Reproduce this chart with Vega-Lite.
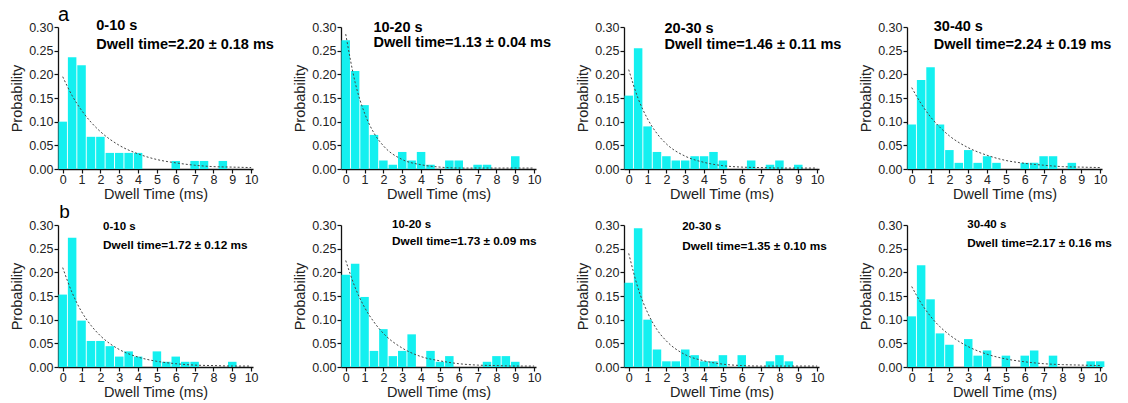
{
  "$schema": "https://vega.github.io/schema/vega-lite/v6.json",
  "padding": {"left": 9, "top": 4, "right": 5, "bottom": 5},
  "background": "white",
  "config": {
    "view": {"stroke": null},
    "axis": {"grid": false, "domainColor": "#111", "domainWidth": 1.3, "tickColor": "#111", "tickWidth": 1.2, "tickSize": 4,
      "labelFont": "Liberation Sans", "labelFontSize": 12.5, "labelColor": "#222", "labelPadding": 1, "labelFlush": false, "labelOverlap": false,
      "titleFont": "Liberation Sans", "titleFontSize": 14.5, "titleFontWeight": "normal", "titleColor": "#222"},
    "axisX": {"titlePadding": 2, "labelPadding": 0},
    "axisY": {"titlePadding": 4},
    "style": {"lbl": {"font": "Liberation Sans", "fontWeight": "bold", "fill": "#111", "align": "left", "baseline": "middle"}}
  },
  "datasets": {
    "labels": [
      {"panel": "a1", "range": "0-10 s", "dwell": "Dwell time=2.20 ± 0.18 ms", "tag": "a"},
      {"panel": "a2", "range": "10-20 s", "dwell": "Dwell time=1.13 ± 0.04 ms", "tag": ""},
      {"panel": "a3", "range": "20-30 s", "dwell": "Dwell time=1.46 ± 0.11 ms", "tag": ""},
      {"panel": "a4", "range": "30-40 s", "dwell": "Dwell time=2.24 ± 0.19 ms", "tag": ""},
      {"panel": "b1", "range": "0-10 s", "dwell": "Dwell time=1.72 ± 0.12 ms", "tag": "b"},
      {"panel": "b2", "range": "10-20 s", "dwell": "Dwell time=1.73 ± 0.09 ms", "tag": ""},
      {"panel": "b3", "range": "20-30 s", "dwell": "Dwell time=1.35 ± 0.10 ms", "tag": ""},
      {"panel": "b4", "range": "30-40 s", "dwell": "Dwell time=2.17 ± 0.16 ms", "tag": ""}
    ],
    "bars": [
      {"panel":"a1","t":0,"p":0.10},{"panel":"a1","t":0.5,"p":0.236},{"panel":"a1","t":1,"p":0.219},{"panel":"a1","t":1.5,"p":0.068},{"panel":"a1","t":2,"p":0.068},{"panel":"a1","t":2.5,"p":0.034},{"panel":"a1","t":3,"p":0.034},{"panel":"a1","t":3.5,"p":0.034},{"panel":"a1","t":4,"p":0.034},{"panel":"a1","t":6,"p":0.017},{"panel":"a1","t":7,"p":0.017},{"panel":"a1","t":7.5,"p":0.017},{"panel":"a1","t":8.5,"p":0.017},
      {"panel":"a2","t":0,"p":0.272},{"panel":"a2","t":0.5,"p":0.207},{"panel":"a2","t":1,"p":0.135},{"panel":"a2","t":1.5,"p":0.072},{"panel":"a2","t":2,"p":0.018},{"panel":"a2","t":2.5,"p":0.009},{"panel":"a2","t":3,"p":0.036},{"panel":"a2","t":3.5,"p":0.018},{"panel":"a2","t":4,"p":0.036},{"panel":"a2","t":4.5,"p":0.009},{"panel":"a2","t":5.5,"p":0.018},{"panel":"a2","t":6,"p":0.018},{"panel":"a2","t":7,"p":0.009},{"panel":"a2","t":7.5,"p":0.009},{"panel":"a2","t":9,"p":0.027},
      {"panel":"a3","t":0,"p":0.155},{"panel":"a3","t":0.5,"p":0.255},{"panel":"a3","t":1,"p":0.09},{"panel":"a3","t":1.5,"p":0.036},{"panel":"a3","t":2,"p":0.027},{"panel":"a3","t":2.5,"p":0.018},{"panel":"a3","t":3,"p":0.018},{"panel":"a3","t":3.5,"p":0.027},{"panel":"a3","t":4,"p":0.027},{"panel":"a3","t":4.5,"p":0.036},{"panel":"a3","t":5,"p":0.018},{"panel":"a3","t":6.5,"p":0.018},{"panel":"a3","t":7.5,"p":0.009},{"panel":"a3","t":8,"p":0.018},{"panel":"a3","t":9,"p":0.009},
      {"panel":"a4","t":0,"p":0.094},{"panel":"a4","t":0.5,"p":0.188},{"panel":"a4","t":1,"p":0.215},{"panel":"a4","t":1.5,"p":0.094},{"panel":"a4","t":2,"p":0.04},{"panel":"a4","t":2.5,"p":0.013},{"panel":"a4","t":3,"p":0.04},{"panel":"a4","t":3.5,"p":0.013},{"panel":"a4","t":4,"p":0.027},{"panel":"a4","t":4.5,"p":0.013},{"panel":"a4","t":6,"p":0.013},{"panel":"a4","t":6.5,"p":0.013},{"panel":"a4","t":7,"p":0.027},{"panel":"a4","t":7.5,"p":0.027},{"panel":"a4","t":8.5,"p":0.013},
      {"panel":"b1","t":0,"p":0.153},{"panel":"b1","t":0.5,"p":0.273},{"panel":"b1","t":1,"p":0.098},{"panel":"b1","t":1.5,"p":0.055},{"panel":"b1","t":2,"p":0.055},{"panel":"b1","t":2.5,"p":0.044},{"panel":"b1","t":3,"p":0.022},{"panel":"b1","t":3.5,"p":0.033},{"panel":"b1","t":4,"p":0.022},{"panel":"b1","t":5,"p":0.033},{"panel":"b1","t":5.5,"p":0.011},{"panel":"b1","t":6,"p":0.022},{"panel":"b1","t":6.5,"p":0.011},{"panel":"b1","t":7,"p":0.011},{"panel":"b1","t":9,"p":0.011},
      {"panel":"b2","t":0,"p":0.195},{"panel":"b2","t":0.5,"p":0.218},{"panel":"b2","t":1,"p":0.148},{"panel":"b2","t":1.5,"p":0.034},{"panel":"b2","t":2,"p":0.08},{"panel":"b2","t":2.5,"p":0.023},{"panel":"b2","t":3,"p":0.034},{"panel":"b2","t":3.5,"p":0.069},{"panel":"b2","t":4.5,"p":0.034},{"panel":"b2","t":5,"p":0.011},{"panel":"b2","t":5.5,"p":0.023},{"panel":"b2","t":7.5,"p":0.011},{"panel":"b2","t":8,"p":0.023},{"panel":"b2","t":8.5,"p":0.023},{"panel":"b2","t":9,"p":0.011},
      {"panel":"b3","t":0,"p":0.178},{"panel":"b3","t":0.5,"p":0.293},{"panel":"b3","t":1,"p":0.10},{"panel":"b3","t":1.5,"p":0.037},{"panel":"b3","t":2,"p":0.012},{"panel":"b3","t":2.5,"p":0.012},{"panel":"b3","t":3,"p":0.037},{"panel":"b3","t":3.5,"p":0.025},{"panel":"b3","t":4,"p":0.012},{"panel":"b3","t":4.5,"p":0.012},{"panel":"b3","t":5,"p":0.025},{"panel":"b3","t":6,"p":0.025},{"panel":"b3","t":7.5,"p":0.012},{"panel":"b3","t":8,"p":0.025},{"panel":"b3","t":8.5,"p":0.012},
      {"panel":"b4","t":0,"p":0.107},{"panel":"b4","t":0.5,"p":0.215},{"panel":"b4","t":1,"p":0.143},{"panel":"b4","t":1.5,"p":0.071},{"panel":"b4","t":2,"p":0.047},{"panel":"b4","t":3,"p":0.059},{"panel":"b4","t":3.5,"p":0.024},{"panel":"b4","t":4,"p":0.035},{"panel":"b4","t":5,"p":0.024},{"panel":"b4","t":6,"p":0.024},{"panel":"b4","t":6.5,"p":0.035},{"panel":"b4","t":7.5,"p":0.024},{"panel":"b4","t":9.5,"p":0.012},{"panel":"b4","t":10,"p":0.012}
    ],
    "fit": [
      {"panel":"a1","t":0,"p":0.195},{"panel":"a1","t":0.5,"p":0.155},{"panel":"a1","t":1,"p":0.124},{"panel":"a1","t":1.5,"p":0.099},{"panel":"a1","t":2,"p":0.079},{"panel":"a1","t":3,"p":0.050},{"panel":"a1","t":4,"p":0.032},{"panel":"a1","t":5,"p":0.020},{"panel":"a1","t":6,"p":0.013},{"panel":"a1","t":7,"p":0.008},{"panel":"a1","t":8,"p":0.005},{"panel":"a1","t":9,"p":0.004},{"panel":"a1","t":10,"p":0.003},
      {"panel":"a2","t":0,"p":0.285},{"panel":"a2","t":0.5,"p":0.183},{"panel":"a2","t":1,"p":0.118},{"panel":"a2","t":1.5,"p":0.076},{"panel":"a2","t":2,"p":0.049},{"panel":"a2","t":3,"p":0.020},{"panel":"a2","t":4,"p":0.009},{"panel":"a2","t":5,"p":0.004},{"panel":"a2","t":6,"p":0.002},{"panel":"a2","t":7,"p":0.002},{"panel":"a2","t":8,"p":0.002},{"panel":"a2","t":9,"p":0.002},{"panel":"a2","t":10,"p":0.002},
      {"panel":"a3","t":0,"p":0.21},{"panel":"a3","t":0.5,"p":0.149},{"panel":"a3","t":1,"p":0.106},{"panel":"a3","t":1.5,"p":0.075},{"panel":"a3","t":2,"p":0.053},{"panel":"a3","t":3,"p":0.027},{"panel":"a3","t":4,"p":0.014},{"panel":"a3","t":5,"p":0.007},{"panel":"a3","t":6,"p":0.004},{"panel":"a3","t":7,"p":0.003},{"panel":"a3","t":8,"p":0.002},{"panel":"a3","t":9,"p":0.002},{"panel":"a3","t":10,"p":0.002},
      {"panel":"a4","t":0,"p":0.172},{"panel":"a4","t":0.5,"p":0.138},{"panel":"a4","t":1,"p":0.110},{"panel":"a4","t":1.5,"p":0.088},{"panel":"a4","t":2,"p":0.070},{"panel":"a4","t":3,"p":0.045},{"panel":"a4","t":4,"p":0.029},{"panel":"a4","t":5,"p":0.018},{"panel":"a4","t":6,"p":0.012},{"panel":"a4","t":7,"p":0.008},{"panel":"a4","t":8,"p":0.005},{"panel":"a4","t":9,"p":0.004},{"panel":"a4","t":10,"p":0.003},
      {"panel":"b1","t":0,"p":0.21},{"panel":"b1","t":0.5,"p":0.157},{"panel":"b1","t":1,"p":0.117},{"panel":"b1","t":1.5,"p":0.088},{"panel":"b1","t":2,"p":0.066},{"panel":"b1","t":3,"p":0.037},{"panel":"b1","t":4,"p":0.021},{"panel":"b1","t":5,"p":0.012},{"panel":"b1","t":6,"p":0.007},{"panel":"b1","t":7,"p":0.004},{"panel":"b1","t":8,"p":0.003},{"panel":"b1","t":9,"p":0.002},{"panel":"b1","t":10,"p":0.002},
      {"panel":"b2","t":0,"p":0.225},{"panel":"b2","t":0.5,"p":0.168},{"panel":"b2","t":1,"p":0.126},{"panel":"b2","t":1.5,"p":0.095},{"panel":"b2","t":2,"p":0.071},{"panel":"b2","t":3,"p":0.040},{"panel":"b2","t":4,"p":0.022},{"panel":"b2","t":5,"p":0.013},{"panel":"b2","t":6,"p":0.007},{"panel":"b2","t":7,"p":0.004},{"panel":"b2","t":8,"p":0.003},{"panel":"b2","t":9,"p":0.002},{"panel":"b2","t":10,"p":0.002},
      {"panel":"b3","t":0,"p":0.24},{"panel":"b3","t":0.5,"p":0.166},{"panel":"b3","t":1,"p":0.115},{"panel":"b3","t":1.5,"p":0.079},{"panel":"b3","t":2,"p":0.055},{"panel":"b3","t":3,"p":0.026},{"panel":"b3","t":4,"p":0.013},{"panel":"b3","t":5,"p":0.006},{"panel":"b3","t":6,"p":0.003},{"panel":"b3","t":7,"p":0.002},{"panel":"b3","t":8,"p":0.002},{"panel":"b3","t":9,"p":0.002},{"panel":"b3","t":10,"p":0.002},
      {"panel":"b4","t":0,"p":0.17},{"panel":"b4","t":0.5,"p":0.135},{"panel":"b4","t":1,"p":0.107},{"panel":"b4","t":1.5,"p":0.085},{"panel":"b4","t":2,"p":0.068},{"panel":"b4","t":3,"p":0.043},{"panel":"b4","t":4,"p":0.027},{"panel":"b4","t":5,"p":0.017},{"panel":"b4","t":6,"p":0.011},{"panel":"b4","t":7,"p":0.007},{"panel":"b4","t":8,"p":0.005},{"panel":"b4","t":9,"p":0.004},{"panel":"b4","t":10,"p":0.003}
    ]
  },
  "columns": 4,
  "bounds": "flush",
  "spacing": {"row": 56, "column": 88},
  "concat": [
    {"width": 195, "height": 142, "layer": [
      {"data": {"name": "bars"}, "transform": [{"filter": "datum.panel == 'a1'"}], "mark": {"type": "bar", "width": 8.5, "color": "#14f0f0"},
       "encoding": {"x": {"field": "t", "type": "quantitative", "title": "Dwell Time (ms)", "scale": {"domain": [-0.25, 10.1], "nice": false, "zero": false, "padding": 0}, "axis": {"values": [0,1,2,3,4,5,6,7,8,9,10], "tickCount": 30, "format": "d", "labelOverlap": false}},
                    "y": {"field": "p", "type": "quantitative", "title": "Probability", "scale": {"domain": [0, 0.3], "nice": false}, "axis": {"values": [0,0.05,0.1,0.15,0.2,0.25,0.3], "tickCount": 30, "format": ".2f", "labelOverlap": false}}}},
      {"data": {"name": "fit"}, "transform": [{"filter": "datum.panel == 'a1'"}], "mark": {"type": "line", "color": "#444", "strokeWidth": 1, "strokeDash": [2, 2], "interpolate": "monotone"},
       "encoding": {"x": {"field": "t", "type": "quantitative"}, "y": {"field": "p", "type": "quantitative"}}},
      {"data": {"name": "labels"}, "transform": [{"filter": "datum.panel == 'a1'"}], "mark": {"type": "text", "style": "lbl", "fontSize": 14.5},
       "encoding": {"x": {"datum": 1.78}, "y": {"datum": 0.3015}, "text": {"field": "range"}}},
      {"data": {"name": "labels"}, "transform": [{"filter": "datum.panel == 'a1'"}], "mark": {"type": "text", "style": "lbl", "fontSize": 14.5},
       "encoding": {"x": {"datum": 1.78}, "y": {"datum": 0.2615}, "text": {"field": "dwell"}}},
      {"data": {"name": "labels"}, "transform": [{"filter": "datum.panel == 'a1'"}], "mark": {"type": "text", "style": "lbl", "fontSize": 20, "fontWeight": "normal", "align": "center"},
       "encoding": {"x": {"datum": 0.05}, "y": {"datum": 0.326}, "text": {"field": "tag"}}}
    ]},
    {"width": 195, "height": 142, "layer": [
      {"data": {"name": "bars"}, "transform": [{"filter": "datum.panel == 'a2'"}], "mark": {"type": "bar", "width": 8.5, "color": "#14f0f0"},
       "encoding": {"x": {"field": "t", "type": "quantitative", "title": "Dwell Time (ms)", "scale": {"domain": [-0.25, 10.1], "nice": false, "zero": false, "padding": 0}, "axis": {"values": [0,1,2,3,4,5,6,7,8,9,10], "tickCount": 30, "format": "d", "labelOverlap": false}},
                    "y": {"field": "p", "type": "quantitative", "title": "Probability", "scale": {"domain": [0, 0.3], "nice": false}, "axis": {"values": [0,0.05,0.1,0.15,0.2,0.25,0.3], "tickCount": 30, "format": ".2f", "labelOverlap": false}}}},
      {"data": {"name": "fit"}, "transform": [{"filter": "datum.panel == 'a2'"}], "mark": {"type": "line", "color": "#444", "strokeWidth": 1, "strokeDash": [2, 2], "interpolate": "monotone"},
       "encoding": {"x": {"field": "t", "type": "quantitative"}, "y": {"field": "p", "type": "quantitative"}}},
      {"data": {"name": "labels"}, "transform": [{"filter": "datum.panel == 'a2'"}], "mark": {"type": "text", "style": "lbl", "fontSize": 14.5},
       "encoding": {"x": {"datum": 1.47}, "y": {"datum": 0.2985}, "text": {"field": "range"}}},
      {"data": {"name": "labels"}, "transform": [{"filter": "datum.panel == 'a2'"}], "mark": {"type": "text", "style": "lbl", "fontSize": 14.5},
       "encoding": {"x": {"datum": 1.47}, "y": {"datum": 0.2665}, "text": {"field": "dwell"}}}
    ]},
    {"width": 195, "height": 142, "layer": [
      {"data": {"name": "bars"}, "transform": [{"filter": "datum.panel == 'a3'"}], "mark": {"type": "bar", "width": 8.5, "color": "#14f0f0"},
       "encoding": {"x": {"field": "t", "type": "quantitative", "title": "Dwell Time (ms)", "scale": {"domain": [-0.25, 10.1], "nice": false, "zero": false, "padding": 0}, "axis": {"values": [0,1,2,3,4,5,6,7,8,9,10], "tickCount": 30, "format": "d", "labelOverlap": false}},
                    "y": {"field": "p", "type": "quantitative", "title": "Probability", "scale": {"domain": [0, 0.3], "nice": false}, "axis": {"values": [0,0.05,0.1,0.15,0.2,0.25,0.3], "tickCount": 30, "format": ".2f", "labelOverlap": false}}}},
      {"data": {"name": "fit"}, "transform": [{"filter": "datum.panel == 'a3'"}], "mark": {"type": "line", "color": "#444", "strokeWidth": 1, "strokeDash": [2, 2], "interpolate": "monotone"},
       "encoding": {"x": {"field": "t", "type": "quantitative"}, "y": {"field": "p", "type": "quantitative"}}},
      {"data": {"name": "labels"}, "transform": [{"filter": "datum.panel == 'a3'"}], "mark": {"type": "text", "style": "lbl", "fontSize": 14.5},
       "encoding": {"x": {"datum": 1.9}, "y": {"datum": 0.2955}, "text": {"field": "range"}}},
      {"data": {"name": "labels"}, "transform": [{"filter": "datum.panel == 'a3'"}], "mark": {"type": "text", "style": "lbl", "fontSize": 14.5},
       "encoding": {"x": {"datum": 1.9}, "y": {"datum": 0.2615}, "text": {"field": "dwell"}}}
    ]},
    {"width": 195, "height": 142, "layer": [
      {"data": {"name": "bars"}, "transform": [{"filter": "datum.panel == 'a4'"}], "mark": {"type": "bar", "width": 8.5, "color": "#14f0f0"},
       "encoding": {"x": {"field": "t", "type": "quantitative", "title": "Dwell Time (ms)", "scale": {"domain": [-0.25, 10.1], "nice": false, "zero": false, "padding": 0}, "axis": {"values": [0,1,2,3,4,5,6,7,8,9,10], "tickCount": 30, "format": "d", "labelOverlap": false}},
                    "y": {"field": "p", "type": "quantitative", "title": "Probability", "scale": {"domain": [0, 0.3], "nice": false}, "axis": {"values": [0,0.05,0.1,0.15,0.2,0.25,0.3], "tickCount": 30, "format": ".2f", "labelOverlap": false}}}},
      {"data": {"name": "fit"}, "transform": [{"filter": "datum.panel == 'a4'"}], "mark": {"type": "line", "color": "#444", "strokeWidth": 1, "strokeDash": [2, 2], "interpolate": "monotone"},
       "encoding": {"x": {"field": "t", "type": "quantitative"}, "y": {"field": "p", "type": "quantitative"}}},
      {"data": {"name": "labels"}, "transform": [{"filter": "datum.panel == 'a4'"}], "mark": {"type": "text", "style": "lbl", "fontSize": 14.5},
       "encoding": {"x": {"datum": 1.17}, "y": {"datum": 0.2995}, "text": {"field": "range"}}},
      {"data": {"name": "labels"}, "transform": [{"filter": "datum.panel == 'a4'"}], "mark": {"type": "text", "style": "lbl", "fontSize": 14.5},
       "encoding": {"x": {"datum": 1.17}, "y": {"datum": 0.2615}, "text": {"field": "dwell"}}}
    ]},
    {"width": 195, "height": 142, "layer": [
      {"data": {"name": "bars"}, "transform": [{"filter": "datum.panel == 'b1'"}], "mark": {"type": "bar", "width": 8.5, "color": "#14f0f0"},
       "encoding": {"x": {"field": "t", "type": "quantitative", "title": "Dwell Time (ms)", "scale": {"domain": [-0.25, 10.1], "nice": false, "zero": false, "padding": 0}, "axis": {"values": [0,1,2,3,4,5,6,7,8,9,10], "tickCount": 30, "format": "d", "labelOverlap": false}},
                    "y": {"field": "p", "type": "quantitative", "title": "Probability", "scale": {"domain": [0, 0.3], "nice": false}, "axis": {"values": [0,0.05,0.1,0.15,0.2,0.25,0.3], "tickCount": 30, "format": ".2f", "labelOverlap": false}}}},
      {"data": {"name": "fit"}, "transform": [{"filter": "datum.panel == 'b1'"}], "mark": {"type": "line", "color": "#444", "strokeWidth": 1, "strokeDash": [2, 2], "interpolate": "monotone"},
       "encoding": {"x": {"field": "t", "type": "quantitative"}, "y": {"field": "p", "type": "quantitative"}}},
      {"data": {"name": "labels"}, "transform": [{"filter": "datum.panel == 'b1'"}], "mark": {"type": "text", "style": "lbl", "fontSize": 11.5},
       "encoding": {"x": {"datum": 2.14}, "y": {"datum": 0.2955}, "text": {"field": "range"}}},
      {"data": {"name": "labels"}, "transform": [{"filter": "datum.panel == 'b1'"}], "mark": {"type": "text", "style": "lbl", "fontSize": 11.8},
       "encoding": {"x": {"datum": 2.14}, "y": {"datum": 0.258}, "text": {"field": "dwell"}}},
      {"data": {"name": "labels"}, "transform": [{"filter": "datum.panel == 'b1'"}], "mark": {"type": "text", "style": "lbl", "fontSize": 19, "fontWeight": "normal", "align": "center"},
       "encoding": {"x": {"datum": 0.1}, "y": {"datum": 0.328}, "text": {"field": "tag"}}}
    ]},
    {"width": 195, "height": 142, "layer": [
      {"data": {"name": "bars"}, "transform": [{"filter": "datum.panel == 'b2'"}], "mark": {"type": "bar", "width": 8.5, "color": "#14f0f0"},
       "encoding": {"x": {"field": "t", "type": "quantitative", "title": "Dwell Time (ms)", "scale": {"domain": [-0.25, 10.1], "nice": false, "zero": false, "padding": 0}, "axis": {"values": [0,1,2,3,4,5,6,7,8,9,10], "tickCount": 30, "format": "d", "labelOverlap": false}},
                    "y": {"field": "p", "type": "quantitative", "title": "Probability", "scale": {"domain": [0, 0.3], "nice": false}, "axis": {"values": [0,0.05,0.1,0.15,0.2,0.25,0.3], "tickCount": 30, "format": ".2f", "labelOverlap": false}}}},
      {"data": {"name": "fit"}, "transform": [{"filter": "datum.panel == 'b2'"}], "mark": {"type": "line", "color": "#444", "strokeWidth": 1, "strokeDash": [2, 2], "interpolate": "monotone"},
       "encoding": {"x": {"field": "t", "type": "quantitative"}, "y": {"field": "p", "type": "quantitative"}}},
      {"data": {"name": "labels"}, "transform": [{"filter": "datum.panel == 'b2'"}], "mark": {"type": "text", "style": "lbl", "fontSize": 11.5},
       "encoding": {"x": {"datum": 2.46}, "y": {"datum": 0.3005}, "text": {"field": "range"}}},
      {"data": {"name": "labels"}, "transform": [{"filter": "datum.panel == 'b2'"}], "mark": {"type": "text", "style": "lbl", "fontSize": 11.8},
       "encoding": {"x": {"datum": 2.46}, "y": {"datum": 0.2655}, "text": {"field": "dwell"}}}
    ]},
    {"width": 195, "height": 142, "layer": [
      {"data": {"name": "bars"}, "transform": [{"filter": "datum.panel == 'b3'"}], "mark": {"type": "bar", "width": 8.5, "color": "#14f0f0"},
       "encoding": {"x": {"field": "t", "type": "quantitative", "title": "Dwell Time (ms)", "scale": {"domain": [-0.25, 10.1], "nice": false, "zero": false, "padding": 0}, "axis": {"values": [0,1,2,3,4,5,6,7,8,9,10], "tickCount": 30, "format": "d", "labelOverlap": false}},
                    "y": {"field": "p", "type": "quantitative", "title": "Probability", "scale": {"domain": [0, 0.3], "nice": false}, "axis": {"values": [0,0.05,0.1,0.15,0.2,0.25,0.3], "tickCount": 30, "format": ".2f", "labelOverlap": false}}}},
      {"data": {"name": "fit"}, "transform": [{"filter": "datum.panel == 'b3'"}], "mark": {"type": "line", "color": "#444", "strokeWidth": 1, "strokeDash": [2, 2], "interpolate": "monotone"},
       "encoding": {"x": {"field": "t", "type": "quantitative"}, "y": {"field": "p", "type": "quantitative"}}},
      {"data": {"name": "labels"}, "transform": [{"filter": "datum.panel == 'b3'"}], "mark": {"type": "text", "style": "lbl", "fontSize": 11.5},
       "encoding": {"x": {"datum": 2.84}, "y": {"datum": 0.2955}, "text": {"field": "range"}}},
      {"data": {"name": "labels"}, "transform": [{"filter": "datum.panel == 'b3'"}], "mark": {"type": "text", "style": "lbl", "fontSize": 11.8},
       "encoding": {"x": {"datum": 2.84}, "y": {"datum": 0.2555}, "text": {"field": "dwell"}}}
    ]},
    {"width": 195, "height": 142, "layer": [
      {"data": {"name": "bars"}, "transform": [{"filter": "datum.panel == 'b4'"}], "mark": {"type": "bar", "width": 8.5, "color": "#14f0f0"},
       "encoding": {"x": {"field": "t", "type": "quantitative", "title": "Dwell Time (ms)", "scale": {"domain": [-0.25, 10.1], "nice": false, "zero": false, "padding": 0}, "axis": {"values": [0,1,2,3,4,5,6,7,8,9,10], "tickCount": 30, "format": "d", "labelOverlap": false}},
                    "y": {"field": "p", "type": "quantitative", "title": "Probability", "scale": {"domain": [0, 0.3], "nice": false}, "axis": {"values": [0,0.05,0.1,0.15,0.2,0.25,0.3], "tickCount": 30, "format": ".2f", "labelOverlap": false}}}},
      {"data": {"name": "fit"}, "transform": [{"filter": "datum.panel == 'b4'"}], "mark": {"type": "line", "color": "#444", "strokeWidth": 1, "strokeDash": [2, 2], "interpolate": "monotone"},
       "encoding": {"x": {"field": "t", "type": "quantitative"}, "y": {"field": "p", "type": "quantitative"}}},
      {"data": {"name": "labels"}, "transform": [{"filter": "datum.panel == 'b4'"}], "mark": {"type": "text", "style": "lbl", "fontSize": 11.5},
       "encoding": {"x": {"datum": 2.95}, "y": {"datum": 0.3005}, "text": {"field": "range"}}},
      {"data": {"name": "labels"}, "transform": [{"filter": "datum.panel == 'b4'"}], "mark": {"type": "text", "style": "lbl", "fontSize": 11.8},
       "encoding": {"x": {"datum": 2.95}, "y": {"datum": 0.2615}, "text": {"field": "dwell"}}}
    ]}
  ]
}
